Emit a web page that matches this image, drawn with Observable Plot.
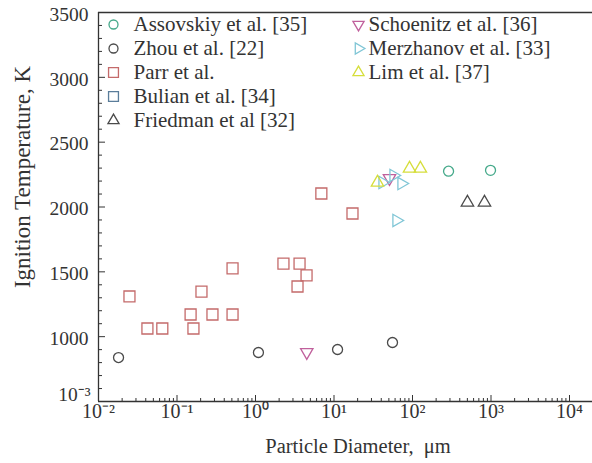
<!DOCTYPE html>
<html>
<head>
<meta charset="utf-8">
<script src="https://cdn.jsdelivr.net/npm/d3@7"></script>
<script src="https://cdn.jsdelivr.net/npm/@observablehq/plot@0.6"></script>
<style>
  html, body { margin: 0; padding: 0; background: #fff; }
  svg text, svg tspan { font-family: "Liberation Serif", serif; }
</style>
</head>
<body>
<div id="chart"></div>
<script>
// ---- data (particle diameter in µm, ignition temperature in K) ----
const assovskiyD = [288, 986];
const assovskiyT = [2276, 2283];
const zhouD = [0.018, 1.09, 11.1, 55.6];
const zhouT = [839, 878, 901, 955];
const parrD = [0.0248, 0.042, 0.065, 0.149, 0.162, 0.205, 0.283, 0.51, 0.51, 2.27, 3.64, 4.47, 3.43, 6.9, 17.2];
const parrT = [1310, 1063, 1063, 1171, 1063, 1348, 1171, 1526, 1171, 1564, 1564, 1472, 1387, 2104, 1950];
const bulianD = [];
const bulianT = [];
const friedmanD = [501, 826];
const friedmanT = [2035, 2035];
const schoenitzD = [4.5, 50.9];
const schoenitzT = [880, 2222];
const merzhanovD = [41.5, 57.3, 72.4, 62.5];
const merzhanovT = [2189, 2243, 2181, 1896];
const limD = [35.8, 91.6, 126];
const limT = [2189, 2297, 2297];

const xMajor = [0.01, 0.1, 1, 10, 100, 1000, 10000];
const xTickLabels = ["10⁻²", "10⁻¹", "10⁰", "10¹", "10²", "10³", "10⁴"];
const yMajor = [500, 1000, 1500, 2000, 2500, 3000, 3500];
const yTickLabels = ["10⁻³", "1000", "1500", "2000", "2500", "3000", "3500"];

// ---- symbols ----
function triangle(angle) {
  return {
    draw(ctx, size) {
      const s = Math.sqrt(size / (Math.sqrt(3) / 4));
      const R = s / Math.sqrt(3);
      for (let i = 0; i < 3; i++) {
        const a = angle + i * 2 * Math.PI / 3;
        const px = R * Math.sin(a), py = -R * Math.cos(a);
        if (i === 0) ctx.moveTo(px, py); else ctx.lineTo(px, py);
      }
      ctx.closePath();
    }
  };
}
const triUp = triangle(0), triDown = triangle(Math.PI), triRight = triangle(Math.PI / 2);

const series = [
  {name: "Assovskiy et al. [35]", d: assovskiyD, t: assovskiyT, color: "#45a98a", symbol: "circle", r: 5, col: 0, row: 0},
  {name: "Zhou et al. [22]", d: zhouD, t: zhouT, color: "#4a4a4a", symbol: "circle", r: 5, col: 0, row: 1},
  {name: "Parr et al.", d: parrD, t: parrT, color: "#c46a6a", symbol: "square", r: 6.2, col: 0, row: 2},
  {name: "Bulian et al. [34]", d: bulianD, t: bulianT, color: "#5a7d9a", symbol: "square", r: 6.2, col: 0, row: 3},
  {name: "Friedman et al [32]", d: friedmanD, t: friedmanT, color: "#4a4a4a", symbol: triUp, r: 4.6, col: 0, row: 4},
  {name: "Schoenitz et al. [36]", d: schoenitzD, t: schoenitzT, color: "#c0609c", symbol: triDown, r: 4.6, col: 1, row: 0},
  {name: "Merzhanov et al. [33]", d: merzhanovD, t: merzhanovT, color: "#80c6d6", symbol: triRight, r: 4.6, col: 1, row: 1},
  {name: "Lim et al. [37]", d: limD, t: limT, color: "#d6de3c", symbol: triUp, r: 4.6, col: 1, row: 2}
];

const xMinor = [];
for (let e = -2; e < 4; e++) for (let k = 2; k <= 9; k++) xMinor.push(k * Math.pow(10, e));
const yMinor = d3.range(500, 3501, 100).filter(v => v % 500 !== 0);

const font = "Liberation Serif";
const ink = "#333";

const dataMarks = series.map(s => Plot.dot(s.d.map((d, i) => ({d, t: s.t[i]})), {
  x: "d", y: "t", symbol: () => s.symbol, r: s.r, stroke: s.color, strokeWidth: 1.3, fill: "none"
}));

const legendMarks = [];
series.forEach(s => {
  const dxSym = s.col === 0 ? 15 : 260;
  const dxText = s.col === 0 ? 35 : 270;
  const dy = 12 + s.row * 24;
  legendMarks.push(Plot.dot([s.name], {frameAnchor: "top-left", dx: dxSym, dy, symbol: () => s.symbol, r: s.r * 0.9, stroke: s.color, strokeWidth: 1.3, fill: "none"}));
  legendMarks.push(Plot.text([s.name], {frameAnchor: "top-left", dx: dxText, dy, text: d => d, textAnchor: "start", lineAnchor: "middle", fill: ink, fontSize: 21, fontFamily: font}));
});

const xLabel = new Map(xMajor.map((v, i) => [v, xTickLabels[i]]));
const yLabel = new Map(yMajor.map((v, i) => [v, yTickLabels[i]]));

const chart = Plot.plot({
  width: 592,
  height: 463,
  marginLeft: 98,
  marginRight: 23,
  marginTop: 12,
  marginBottom: 62,
  style: {fontFamily: font, fontSize: "19px", color: ink, background: "#fff"},
  x: {type: "log", domain: [0.01, 10000]},
  y: {domain: [500, 3500]},
  marks: [
    Plot.axisX({ticks: xMinor, tickSize: -3, tickFormat: () => "", label: null, stroke: ink}),
    Plot.axisX({ticks: xMajor, tickSize: -6, tickFormat: () => "", label: null, stroke: ink}),
    Plot.axisX({ticks: xMajor, tickSize: 0, tickPadding: 2, tickFormat: d => xLabel.get(d), label: null, fontSize: 20, fontFamily: font, fill: ink}),
    Plot.axisY({ticks: yMinor, tickSize: -4, tickFormat: () => "", label: null, stroke: ink}),
    Plot.axisY({ticks: yMajor.slice(1), tickSize: 0, tickPadding: 10, tickFormat: d => yLabel.get(d), label: null, fontSize: 19.5, fontFamily: font, fill: ink, dy: 2}),
    Plot.axisY({ticks: yMajor.slice(0, 1), tickSize: 0, tickPadding: 8, tickFormat: d => yLabel.get(d), label: null, fontSize: 19.5, fontFamily: font, fill: ink, dy: -7}),
    Plot.axisY({ticks: yMajor, tickSize: -7, tickFormat: () => "", label: null, stroke: ink}),
    Plot.ruleX([0.01], {stroke: ink, strokeWidth: 1.3}),
    Plot.ruleY([500], {stroke: ink, strokeWidth: 1.3, insetRight: -23}),
    Plot.ruleY([3500], {stroke: ink, strokeWidth: 1.3, insetRight: -23}),
    Plot.text(["Ignition Temperature, K"], {frameAnchor: "left", textAnchor: "middle", lineAnchor: "middle", dx: -76, dy: -30, rotate: -90, fill: ink, fontSize: 23, fontFamily: font}),
    Plot.text(["Particle Diameter,\u00a0 μm"], {frameAnchor: "bottom", dx: 24, dy: 51, fill: ink, fontSize: 20.5, fontFamily: font}),
    ...dataMarks,
    ...legendMarks
  ]
});
document.getElementById("chart").appendChild(chart);
</script>
</body>
</html>
